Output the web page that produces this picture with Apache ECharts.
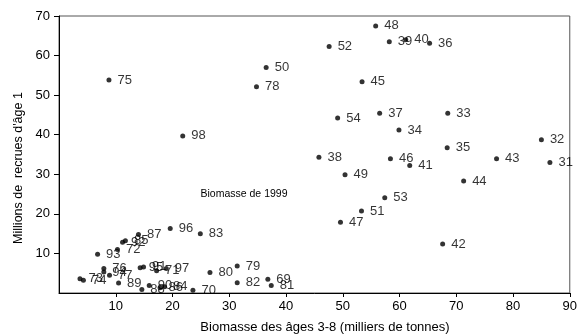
<!DOCTYPE html>
<html>
<head>
<meta charset="utf-8">
<script src="https://cdn.jsdelivr.net/npm/echarts@6/dist/echarts.min.js"></script>
<style>
  html, body { margin: 0; padding: 0; background: #fff; }
  #chart { width: 580px; height: 335px; }
</style>
</head>
<body>
<div id="chart"></div>
<script>
// année, biomasse 3-8 (milliers de t), recrues d'âge 1 (millions)
const years = ['31','32','33','34','35','36','37','38','39','40','41','42','43','44','45','46','47','48','49','50','51','52','53','54',
  '69','70','71','72','73','74','75','76','77','78','79','80','81','82','83','84','85','86','87','88','89','90','91','92','93','94','95','96','97','98'];
const biomass = [86.5, 85.0, 68.5, 59.9, 68.4, 65.3, 56.5, 45.8, 58.2, 61.1, 61.8, 67.6, 77.1, 71.3, 53.4, 58.4, 49.6, 55.8, 50.4, 36.5, 53.3, 47.6, 57.4, 49.1,
  36.8, 23.6, 17.2, 10.3, 3.7, 4.3, 8.8, 7.9, 8.9, 34.8, 31.4, 26.6, 37.4, 31.4, 24.9, 18.6, 11.7, 17.8, 14.0, 14.6, 10.5, 15.9, 14.9, 11.2, 6.8, 7.9, 14.3, 19.6, 18.9, 21.8];
const recruits = [33.0, 38.7, 45.4, 41.2, 36.7, 63.1, 45.4, 34.3, 63.5, 64.0, 32.2, 12.4, 33.9, 28.3, 53.4, 33.9, 17.9, 67.5, 29.9, 57.0, 20.7, 62.3, 24.1, 44.2,
  3.5, 0.7, 5.6, 11.0, 3.6, 3.2, 53.8, 6.2, 4.5, 52.1, 6.8, 5.2, 1.9, 2.6, 15.0, 1.6, 13.2, 1.3, 14.8, 0.9, 2.5, 1.9, 6.6, 12.8, 9.8, 5.3, 6.4, 16.3, 6.2, 39.7];

const xTicks = { min: 0, max: 90, interval: 10 };
const yTicks = { min: 0, max: 70, interval: 10 };

const points = years.map((y, i) => ({ name: y, value: [biomass[i], recruits[i]] }));

const chart = echarts.init(document.getElementById('chart'));
const font = '"Liberation Sans", Arial, sans-serif';

chart.setOption({
  animation: false,
  grid: { left: 59, right: 10, top: 16, bottom: 42, show: true, borderColor: '#555', borderWidth: 1 },
  xAxis: {
    type: 'value',
    min: xTicks.min, max: xTicks.max, interval: xTicks.interval,
    axisLine: { lineStyle: { color: '#000', width: 1 } },
    axisTick: { show: true, length: 4, lineStyle: { color: '#000' } },
    axisLabel: { showMinLabel: false, color: '#000', fontSize: 13, fontFamily: font, margin: 7 },
    splitLine: { show: false }
  },
  yAxis: {
    type: 'value',
    min: yTicks.min, max: yTicks.max, interval: yTicks.interval,
    axisLine: { show: true, lineStyle: { color: '#000', width: 1 } },
    axisTick: { show: true, length: 5, lineStyle: { color: '#000' } },
    axisLabel: { showMinLabel: false, color: '#000', fontSize: 13, fontFamily: font, margin: 9 },
    splitLine: { show: false }
  },
  graphic: [
    {
      type: 'text', x: 325, y: 327,
      style: { text: 'Biomasse des âges 3-8 (milliers de tonnes)', fill: '#000', font: '13px ' + font, textAlign: 'center', textVerticalAlign: 'middle' }
    },
    {
      type: 'text', x: 19, y: 168, rotation: Math.PI / 2,
      style: { text: "Millions de  recrues d'âge 1", fill: '#000', font: '12.5px ' + font, textAlign: 'center', textVerticalAlign: 'middle' }
    },
    {
      type: 'text', x: 244, y: 194,
      style: { text: 'Biomasse de 1999', fill: '#000', font: '10.5px ' + font, textAlign: 'center', textVerticalAlign: 'middle' }
    }
  ],
  series: [{
    type: 'scatter',
    data: points,
    symbol: 'circle',
    symbolSize: 5,
    itemStyle: { color: '#000' },
    label: {
      show: true,
      position: 'right',
      distance: 6,
      formatter: '{b}',
      color: '#000',
      fontSize: 13,
      fontFamily: font
    }
  }]
});
</script>
</body>
</html>
